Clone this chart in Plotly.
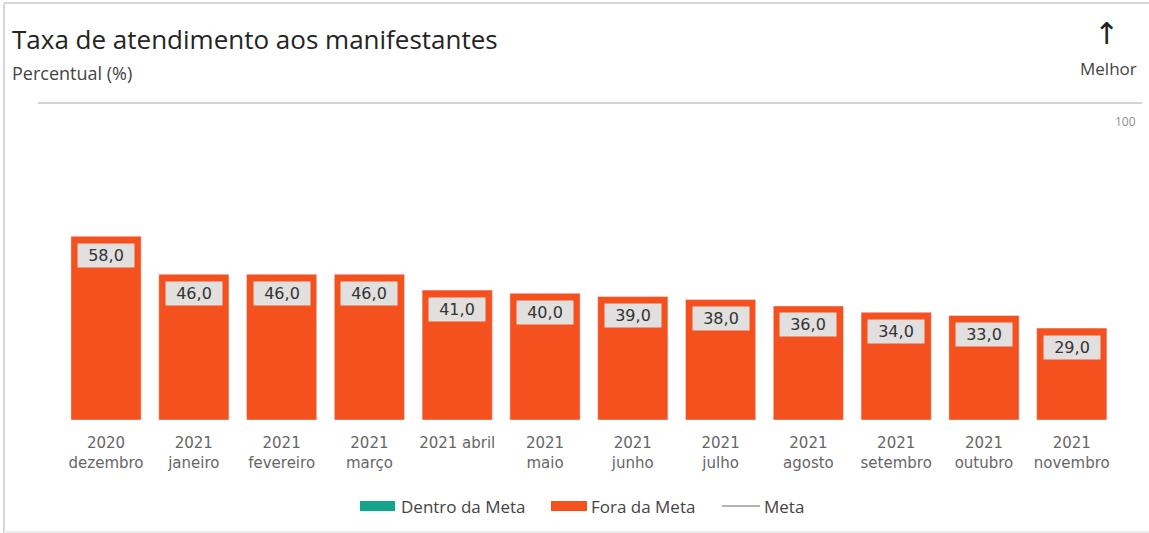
import plotly.graph_objects as go

categories = ["2020<br>dezembro", "2021<br>janeiro", "2021<br>fevereiro", "2021<br>março",
              "2021 abril", "2021<br>maio", "2021<br>junho", "2021<br>julho",
              "2021<br>agosto", "2021<br>setembro", "2021<br>outubro", "2021<br>novembro"]
fora_da_meta = [58.0, 46.0, 46.0, 46.0, 41.0, 40.0, 39.0, 38.0, 36.0, 34.0, 33.0, 29.0]
value_labels = ["58,0", "46,0", "46,0", "46,0", "41,0", "40,0", "39,0", "38,0", "36,0", "34,0", "33,0", "29,0"]
y_ticks = [100]
legend_names = ["Dentro da Meta", "Fora da Meta", "Meta"]

W, H = 1149, 533
L, R, T, B = 38, 7, 100, 113
PW, PH = W - L - R, H - T - B

def px(x):
    return (x - L) / PW

def py(y):
    return (H - B - y) / PH

ORANGE = "#f4511e"
TEAL = "#14a38b"
GRAY = "#b4b4b4"
LEG_FONT = dict(family="Open Sans", size=17, color="#444444")

fig = go.Figure()
fig.add_trace(go.Bar(x=categories, y=fora_da_meta, name=legend_names[1], marker_color=ORANGE,
                     width=0.8, showlegend=False, hoverinfo="x+y"))

annotations = []
for c, v, t in zip(categories, fora_da_meta, value_labels):
    annotations.append(dict(x=c, y=v, text=t, showarrow=False, yanchor="middle", yshift=-19,
                            font=dict(family="DejaVu Sans", size=16, color="#333333"),
                            bgcolor="#e2dfdf", borderpad=1, width=54, height=21))

annotations += [
    dict(xref="paper", yref="paper", x=px(10), y=py(39), xanchor="left", yanchor="middle",
         text="Taxa de atendimento aos manifestantes", showarrow=False,
         font=dict(family="Open Sans", size=26, color="#252423")),
    dict(xref="paper", yref="paper", x=px(10), y=py(73), xanchor="left", yanchor="middle",
         text="Percentual (%)", showarrow=False,
         font=dict(family="Open Sans", size=18, color="#444444")),
    dict(xref="paper", yref="paper", x=px(1106), y=py(34), xanchor="center", yanchor="middle",
         text="↑", showarrow=False,
         font=dict(family="DejaVu Sans", size=30, color="#222222")),
    dict(xref="paper", yref="paper", x=px(1108), y=py(69), xanchor="center", yanchor="middle",
         text="Melhor", showarrow=False,
         font=dict(family="Open Sans", size=17, color="#444444")),
    dict(xref="paper", y=y_ticks[0], x=px(1138), xanchor="right", yanchor="top", yshift=-8,
         text=str(y_ticks[0]), showarrow=False,
         font=dict(family="Open Sans", size=12, color="#909090")),
]

# custom legend (wide swatches as in the original)
LEG_Y = 506
leg_items = [(360, 395, 399, TEAL, "rect"), (551, 587, 589, ORANGE, "rect"), (722, 760, 762, GRAY, "line")]
shapes = []
for (x0, x1, xt, col, kind), name in zip(leg_items, legend_names):
    if kind == "rect":
        shapes.append(dict(type="rect", xref="paper", yref="paper", x0=px(x0), x1=px(x1),
                           y0=py(LEG_Y + 5), y1=py(LEG_Y - 5), line=dict(width=0), fillcolor=col))
    else:
        shapes.append(dict(type="line", xref="paper", yref="paper", x0=px(x0), x1=px(x1),
                           y0=py(LEG_Y), y1=py(LEG_Y), line=dict(color=col, width=2)))
    annotations.append(dict(xref="paper", yref="paper", x=px(xt), y=py(LEG_Y), xanchor="left",
                            yanchor="middle", text=name, showarrow=False, font=LEG_FONT))

# frame of the card
shapes += [
    dict(type="line", xref="paper", yref="paper", x0=px(4), x1=px(1149), y0=py(3), y1=py(3),
         line=dict(color="#d6d6d6", width=2)),
    dict(type="line", xref="paper", yref="paper", x0=px(4), x1=px(4), y0=py(3), y1=py(533),
         line=dict(color="#d6d6d6", width=2)),
    dict(type="line", xref="paper", yref="paper", x0=px(4), x1=px(1149), y0=py(532), y1=py(532),
         line=dict(color="#ececec", width=2)),
]

fig.update_layout(
    width=W, height=H,
    margin=dict(l=L, r=R, t=T, b=B),
    paper_bgcolor="white", plot_bgcolor="white",
    showlegend=False,
    annotations=annotations,
    shapes=shapes,
)
fig.update_xaxes(range=[-0.775, 11.8], showgrid=False, showline=False, ticks="",
                 tickfont=dict(family="DejaVu Sans", size=15, color="#666666"),
                 tickangle=0, ticklabelstandoff=12)
fig.update_yaxes(range=[0, 101], tickvals=y_ticks, showticklabels=False, showgrid=True,
                 gridcolor="#d4d4d4", gridwidth=2, zeroline=False, showline=False)

fig.write_html("out.html", config={"displayModeBar": False},
               post_script="document.body.style.margin='0';")
